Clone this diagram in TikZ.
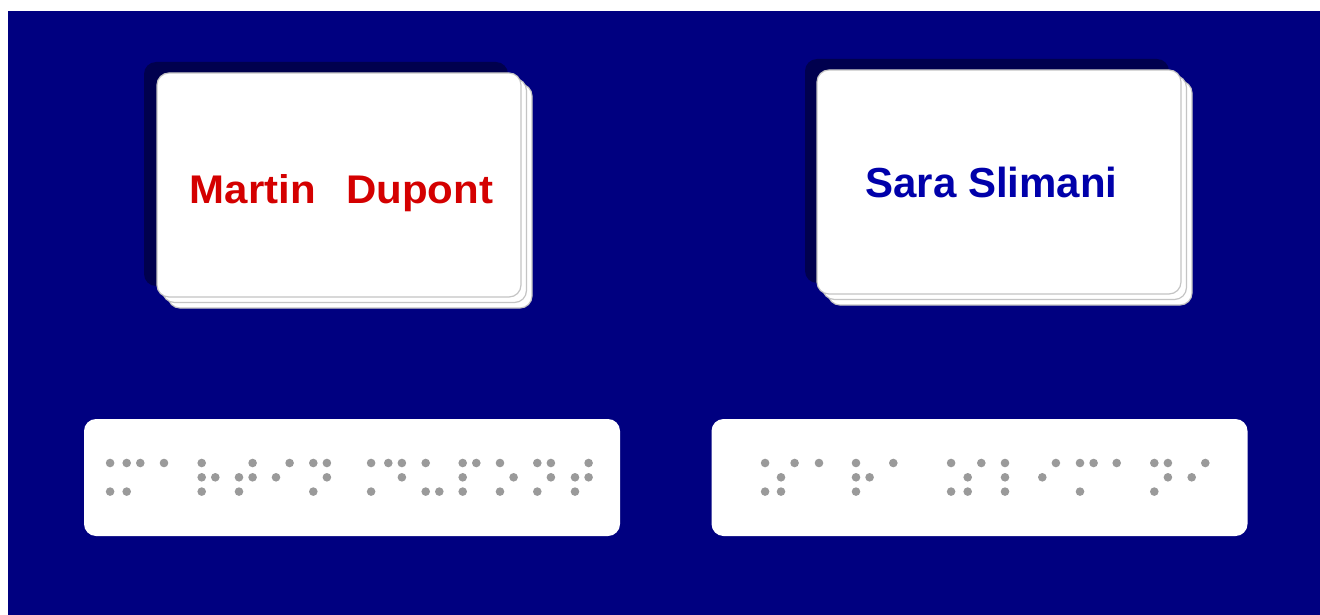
\documentclass[tikz,border=0pt]{standalone}
\usepackage{fontspec}
\setmainfont{Liberation Sans}
\newfontfamily\widefont[FakeStretch=1.05]{Liberation Sans}
\definecolor{navy}{HTML}{000080}
\definecolor{shadowc}{HTML}{00004E}
\definecolor{cardborder}{HTML}{C4C4C4}
\definecolor{dotc}{HTML}{9A9A9A}
\definecolor{namered}{HTML}{D40000}
\definecolor{nameblue}{HTML}{0000AA}
\newcommand\bcell[2]{%
  \foreach \d in {#2}{%
    \ifnum\d<4
      \fill[dotc] (#1, {463+(\d-1)*14.3}) circle (4.3pt);
    \else
      \fill[dotc] ({#1+13.6}, {463+(\d-4)*14.3}) circle (4.3pt);
    \fi
  }%
}
\tikzset{
  cardbox/.style={rounded corners=12pt, draw=cardborder, line width=1.2pt, fill=white,
    minimum width=364pt, minimum height=224pt, inner sep=0pt},
  cardshadow/.style={rounded corners=12pt, fill=shadowc,
    minimum width=364pt, minimum height=224pt, inner sep=0pt},
  panelbox/.style={rounded corners=12pt, fill=white, minimum width=536pt,
    minimum height=117pt, inner sep=0pt},
  nametext/.style={anchor=base, inner sep=0pt, font=\bfseries\fontsize{40}{48}\selectfont}
}
\begin{document}
\begin{tikzpicture}[x=1pt,y=-1pt]
\useasboundingbox (0,0) rectangle (1320,615);
\fill[white] (0,0) rectangle (1320,615);
\fill[navy] (8,11) rectangle (1320,615);
% left card stack
\node[cardshadow] (lshadow) at (326,174) {};
\node[cardbox] (lback2) at (350,196) {};
\node[cardbox] (lback1) at (344.5,190.5) {};
\node[cardbox] (lcard) at (339,185) {};
\node[nametext, text=namered, font=\widefont\bfseries\fontsize{40}{48}\selectfont] (lname) at (341.5,203) {Martin~~\hspace{7pt}Dupont};
% right card stack
\node[cardshadow] (rshadow) at (987,171) {};
\node[cardbox] (rback2) at (1010,193) {};
\node[cardbox] (rback1) at (1004.5,187.5) {};
\node[cardbox] (rcard) at (999,182) {};
\node[nametext, text=nameblue, font=\bfseries\fontsize{42}{50}\selectfont] (rname) at (991.5,197) {Sara Slimani};
% braille panels
\node[panelbox] (lpanel) at (352,477.5) {};
\node[panelbox] (rpanel) at (979.5,477.5) {};
% left braille: Martin Dupont
\bcell{96.5}{4,6}
\bcell{126.7}{1,3,4}
\bcell{164}{1}
\bcell{201.7}{1,2,3,5}
\bcell{239}{2,3,4,5}
\bcell{276}{2,4}
\bcell{313.3}{1,3,4,5}
\bcell{357.5}{4,6}
\bcell{388.3}{1,4,5}
\bcell{425.7}{1,3,6}
\bcell{462.7}{1,2,3,4}
\bcell{500}{1,3,5}
\bcell{537.3}{1,3,4,5}
\bcell{575}{2,3,4,5}
% right braille: Sara Slimani
\bcell{751.5}{4,6}
\bcell{781}{2,3,4}
\bcell{819}{1}
\bcell{856}{1,2,3,5}
\bcell{893.3}{1}
\bcell{937.5}{4,6}
\bcell{967.7}{2,3,4}
\bcell{1005}{1,2,3}
\bcell{1042.3}{2,4}
\bcell{1080}{1,3,4}
\bcell{1116.7}{1}
\bcell{1154.3}{1,3,4,5}
\bcell{1191.7}{2,4}
\end{tikzpicture}
\end{document}
